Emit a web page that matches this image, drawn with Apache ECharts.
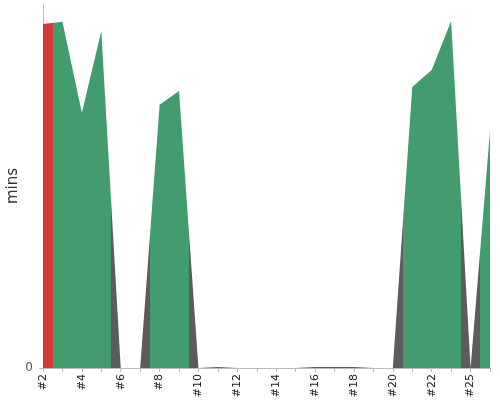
<!DOCTYPE html>
<html>
<head>
<meta charset="utf-8">
<script src="https://cdn.jsdelivr.net/npm/echarts@6/dist/echarts.min.js"></script>
<style>html,body{margin:0;padding:0;background:#fff}#c{width:500px;height:400px}</style>
</head>
<body>
<div id="c"></div>
<script>
var builds = ['#2','#3','#4','#5','#6','#7','#8','#9','#10','#11','#12','#13','#14','#15','#16','#17','#18','#19','#20','#21','#22','#23','#25','#26'];
var durations = [0.945,0.951,0.701,0.926,0,0,0.723,0.761,0,0.003,0,0,0,0,0.003,0.003,0.003,0,0,0.772,0.819,0.953,0,0.651];
var results = ['FAILURE','SUCCESS','SUCCESS','SUCCESS','ABORTED','ABORTED','SUCCESS','SUCCESS','ABORTED','ABORTED','ABORTED','ABORTED','ABORTED','ABORTED','ABORTED','ABORTED','ABORTED','ABORTED','ABORTED','SUCCESS','SUCCESS','SUCCESS','ABORTED','SUCCESS'];
var resultColors = {FAILURE:'#d7393a', SUCCESS:'#439c6e', ABORTED:'#5c5c5c'};

var pieces = results.map(function(r, i){
  return {gte: i - 0.5, lt: i + 0.5, color: resultColors[r]};
});
var seriesData = durations.map(function(d, i){ return [i, d]; });

var chart = echarts.init(document.getElementById('c'));
chart.setOption({
  animation: false,
  grid: {left: 43, right: 10, top: 4, bottom: 32, containLabel: false, outerBoundsMode: 'none'},
  visualMap: {show: false, type: 'piecewise', dimension: 0, seriesIndex: 0, pieces: pieces},
  xAxis: {
    type: 'value', min: 0, max: builds.length - 1, interval: 1,
    splitLine: {show: false},
    axisLine: {lineStyle: {color: '#bbb'}},
    axisTick: {length: 4, lineStyle: {color: '#bbb'}},
    axisLabel: {
      rotate: 90, color: '#222', fontSize: 11, margin: 6, fontFamily: 'DejaVu Sans',
      showMinLabel: true, showMaxLabel: true,
      formatter: function(v){ return (v % 2 === 0) ? builds[v] : ''; }
    }
  },
  yAxis: {
    type: 'value', min: 0, max: 1, interval: 1, offset: 4,
    name: 'mins', nameLocation: 'middle', nameGap: 18, nameMoveOverlap: false,
    nameTextStyle: {color: '#333', fontSize: 15, fontFamily: 'DejaVu Sans'},
    axisLine: {show: true, lineStyle: {color: '#bbb'}},
    axisTick: {show: true, length: 4, lineStyle: {color: '#bbb'}},
    splitLine: {show: false},
    axisLabel: {color: '#555', fontSize: 12, showMaxLabel: false, margin: 6, fontFamily: 'DejaVu Sans'}
  },
  series: [{
    type: 'line', data: seriesData, showSymbol: false, symbol: 'none',
    lineStyle: {width: 0}, areaStyle: {opacity: 1}
  }]
});
</script>
</body>
</html>
